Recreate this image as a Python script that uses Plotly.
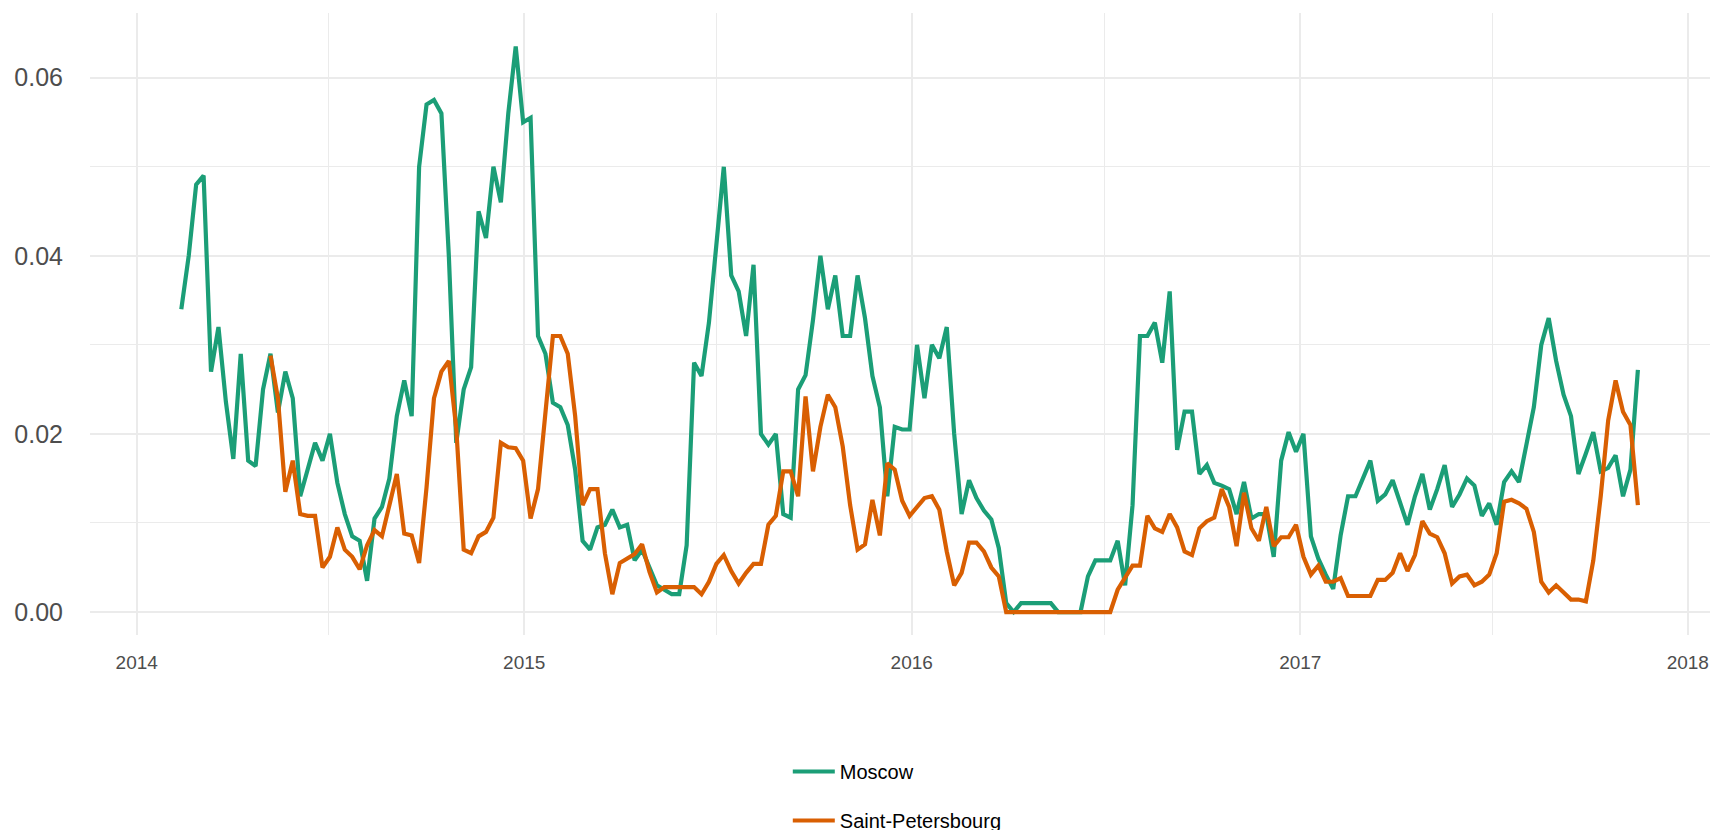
import pandas as pd
import plotly.graph_objects as go

# Weekly samples starting 2014-02-12
start_date = "2014-02-12"

moscow = [
    0.034, 0.040, 0.048, 0.049, 0.027, 0.032, 0.0236, 0.0172, 0.029, 0.017,
    0.0164, 0.025, 0.029, 0.0224, 0.027, 0.024, 0.013, 0.016, 0.019, 0.017,
    0.020, 0.0145, 0.011, 0.0085, 0.008, 0.0035, 0.0105, 0.0118, 0.015, 0.022,
    0.026, 0.022, 0.050, 0.057, 0.0575, 0.056, 0.040, 0.019, 0.025, 0.0275,
    0.045, 0.042, 0.050, 0.046, 0.056, 0.0635, 0.055, 0.0555, 0.031, 0.029,
    0.0235, 0.023, 0.021, 0.016, 0.008, 0.007, 0.0095, 0.0098, 0.0115, 0.0095,
    0.0098, 0.0058, 0.007, 0.005, 0.003, 0.0025, 0.002, 0.002, 0.0075, 0.028,
    0.0265, 0.0325, 0.041, 0.050, 0.0378, 0.036, 0.031, 0.039, 0.020, 0.0188,
    0.020, 0.011, 0.0106, 0.025, 0.0266, 0.0328, 0.040, 0.034, 0.0378, 0.031,
    0.031, 0.0378, 0.033, 0.0265, 0.023, 0.013, 0.0208, 0.0205, 0.0205, 0.030,
    0.024, 0.030, 0.0285, 0.032, 0.020, 0.011, 0.0148, 0.0128, 0.0114, 0.0104,
    0.0072, 0.001, 0.0, 0.001, 0.001, 0.001, 0.001, 0.001, 0.0, 0.0,
    0.0, 0.0, 0.004, 0.0058, 0.0058, 0.0058, 0.008, 0.003, 0.012, 0.031,
    0.031, 0.0325, 0.028, 0.036, 0.0182, 0.0225, 0.0225, 0.0155, 0.0165, 0.0145,
    0.0142, 0.0138, 0.011, 0.0146, 0.0105, 0.011, 0.011, 0.0062, 0.017, 0.0202,
    0.018, 0.020, 0.0085, 0.006, 0.0042, 0.0026, 0.0086, 0.013, 0.013, 0.015,
    0.017, 0.0125, 0.0132, 0.0148, 0.0122, 0.0098, 0.013, 0.0155, 0.0115, 0.0138,
    0.0165, 0.0118, 0.0132, 0.0150, 0.0142, 0.0108, 0.0122, 0.0098, 0.0146, 0.0158,
    0.0146, 0.0190, 0.0230, 0.0300, 0.0330, 0.0282, 0.0244, 0.0220, 0.0155, 0.0178,
    0.0202, 0.0158, 0.0162, 0.0176, 0.0130, 0.0160, 0.0272,
]

spb = [None] * 12 + [
    0.0288, 0.024, 0.0135, 0.017, 0.011, 0.0108, 0.0108, 0.005,
    0.0062, 0.0095, 0.007, 0.0062, 0.0048, 0.0075, 0.0092, 0.0085, 0.012, 0.0155,
    0.0088, 0.0086, 0.0055, 0.014, 0.024, 0.027, 0.0282, 0.0206, 0.007, 0.0066,
    0.0085, 0.009, 0.0106, 0.019, 0.0185, 0.0184, 0.017, 0.0105, 0.0138, 0.022,
    0.031, 0.031, 0.029, 0.022, 0.012, 0.0138, 0.0138, 0.0066, 0.002, 0.0055,
    0.006, 0.0065, 0.0076, 0.0045, 0.0022, 0.0028, 0.0028, 0.0028, 0.0028, 0.0028,
    0.002, 0.0034, 0.0054, 0.0064, 0.0046, 0.0032, 0.0044, 0.0054, 0.0054, 0.0098,
    0.0108, 0.0158, 0.0158, 0.013, 0.0242, 0.0158, 0.0208, 0.0244, 0.023, 0.0186,
    0.012, 0.007, 0.0076, 0.0126, 0.0086, 0.0167, 0.016, 0.0125, 0.0108, 0.0118,
    0.0128, 0.013, 0.0115, 0.0068, 0.003, 0.0044, 0.0078, 0.0078, 0.0068, 0.005,
    0.004, 0.0, 0.0, 0.0, 0.0, 0.0, 0.0, 0.0, 0.0, 0.0,
    0.0, 0.0, 0.0, 0.0, 0.0, 0.0, 0.0025, 0.0038, 0.0052, 0.0052,
    0.0108, 0.0094, 0.009, 0.011, 0.0095, 0.0068, 0.0064, 0.0094, 0.0102, 0.0106,
    0.0138, 0.0118, 0.0074, 0.0134, 0.0094, 0.008, 0.0118, 0.0074, 0.0084, 0.0084,
    0.0098, 0.0062, 0.0042, 0.0052, 0.0034, 0.0034, 0.0038, 0.0018, 0.0018, 0.0018,
    0.0018, 0.0036, 0.0036, 0.0044, 0.0066, 0.0046, 0.0064, 0.0102, 0.0088, 0.0084,
    0.0066, 0.0032, 0.0040, 0.0042, 0.0030, 0.0034, 0.0042, 0.0066, 0.0124, 0.0126,
    0.0122, 0.0116, 0.0090, 0.0034, 0.0022, 0.0030, 0.0022, 0.0014, 0.0014, 0.0012,
    0.0058, 0.0130, 0.0215, 0.0260, 0.0225, 0.0210, 0.012,
]

series_names = ["Moscow", "Saint-Petersbourg"]
series_colors = ["#1B9E77", "#D95F02"]
y_ticks = [0.0, 0.02, 0.04, 0.06]
y_tick_labels = ["0.00", "0.02", "0.04", "0.06"]

dates = pd.date_range(start_date, periods=len(moscow), freq="7D")

fig = go.Figure()
for i, (name, vals) in enumerate(zip(series_names, [moscow, spb])):
    fig.add_trace(go.Scatter(
        x=dates, y=vals, mode="lines", name=name,
        line=dict(color=series_colors[i], width=4.2),
        legendgroup=name, connectgaps=False,
    ))

grid = "#EBEBEB"
fig.update_layout(
    width=1718, height=830,
    paper_bgcolor="white", plot_bgcolor="white",
    margin=dict(l=82, r=0, t=5, b=203, autoexpand=False),
    font=dict(family="Liberation Sans, Arial, sans-serif", color="#000000"),
    showlegend=True,
    legend=dict(
        orientation="v", xref="container", yref="container",
        x=0.4539, xanchor="left", y=0.1036, yanchor="top",
        font=dict(size=20, color="#000000"), tracegroupgap=20,
        itemwidth=42, bgcolor="rgba(0,0,0,0)",
    ),
    xaxis=dict(
        type="date", range=["2013-11-18", "2018-02-06"],
        tick0="2014-01-01", dtick="M12", tickformat="%Y",
        showgrid=True, gridcolor=grid, gridwidth=1.8,
        zeroline=False, showline=False,
        ticks="outside", ticklen=10, tickcolor="rgba(0,0,0,0)",
        tickfont=dict(size=19, color="#4D4D4D"),
        minor=dict(dtick="M6", tick0="2014-01-01", showgrid=True,
                   gridcolor=grid, gridwidth=1),
    ),
    yaxis=dict(
        range=[-0.00258, 0.06727],
        tickvals=y_ticks, ticktext=y_tick_labels,
        showgrid=True, gridcolor=grid, gridwidth=1.8,
        zeroline=False, showline=False,
        ticks="outside", ticklen=21, tickcolor="rgba(0,0,0,0)",
        tickfont=dict(size=25, color="#4D4D4D"),
        minor=dict(tickvals=[0.01, 0.03, 0.05], showgrid=True,
                   gridcolor=grid, gridwidth=1),
    ),
)

fig.write_html("out.html")
